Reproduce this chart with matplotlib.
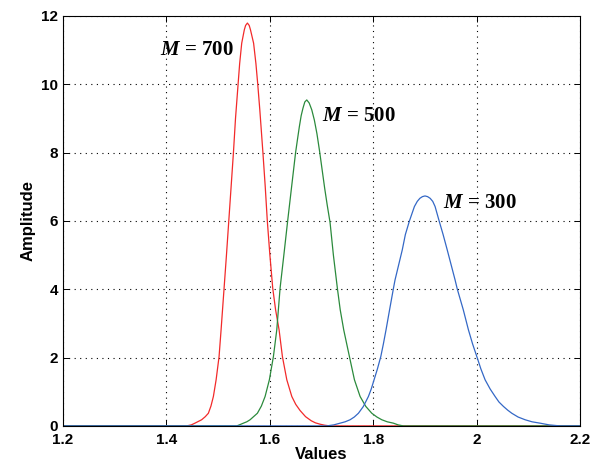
import numpy as np
import matplotlib
matplotlib.use('Agg')
import matplotlib.pyplot as plt

plt.rcParams['font.family'] = 'Liberation Sans'
plt.rcParams['mathtext.fontset'] = 'custom'
plt.rcParams['mathtext.it'] = 'Liberation Serif:bold:italic'
plt.rcParams['mathtext.rm'] = 'Liberation Serif:bold'

# values, (x, amplitude)
x700 = [1.20, 1.439, 1.448, 1.455, 1.468, 1.475, 1.481, 1.486, 1.4907, 1.496, 1.5017, 1.5056,
        1.5114, 1.516, 1.5205, 1.525, 1.5295, 1.5335, 1.5385, 1.5415, 1.5455, 1.5505, 1.553,
        1.5565, 1.560, 1.5625, 1.5685, 1.573, 1.5765, 1.5805, 1.5865, 1.591, 1.595, 1.600,
        1.6055, 1.611, 1.6178, 1.6242, 1.6327, 1.6424, 1.650, 1.6584, 1.669, 1.680, 1.688,
        1.697, 1.706, 1.716, 2.20]
y700 = [0.0, 0.0, 0.03, 0.08, 0.18, 0.27, 0.37, 0.58, 0.86, 1.35, 2.03, 2.81,
        4.03, 5.0, 6.0, 7.0, 8.0, 9.0, 10.0, 10.6, 11.2, 11.59, 11.72,
        11.79, 11.72, 11.59, 11.2, 10.6, 10.0, 9.25, 8.0, 7.0, 6.0, 5.0,
        4.03, 3.4, 2.81, 2.03, 1.35, 0.86, 0.63, 0.45, 0.27, 0.15, 0.09,
        0.05, 0.02, 0.0, 0.0]

x500 = [1.20, 1.536, 1.5425, 1.5487, 1.5553, 1.5617, 1.5758, 1.5835, 1.5907, 1.599, 1.6068,
        1.6133, 1.6197, 1.627, 1.6346, 1.642, 1.6497, 1.6535, 1.657, 1.6605, 1.664, 1.6675,
        1.6713, 1.676, 1.681, 1.686, 1.691, 1.696, 1.701, 1.706, 1.711, 1.7164, 1.7228,
        1.7305, 1.736, 1.7428, 1.7538, 1.7635, 1.7745, 1.7855, 1.7971, 1.807, 1.8164,
        1.827, 1.8389, 1.848, 1.858, 2.20]
y500 = [0.0, 0.0, 0.04, 0.08, 0.12, 0.18, 0.37, 0.58, 0.86, 1.35, 2.03,
        2.81, 4.03, 5.0, 6.03, 7.0, 8.0, 8.4, 8.76, 9.08, 9.3, 9.48,
        9.54, 9.45, 9.25, 8.95, 8.55, 8.05, 7.5, 6.95, 6.45, 5.95, 5.0,
        4.03, 3.4, 2.81, 2.03, 1.35, 0.86, 0.57, 0.37, 0.26, 0.18,
        0.12, 0.08, 0.03, 0.0, 0.0]

x300 = [1.20, 1.71, 1.7235, 1.7358, 1.7455, 1.7551, 1.7632, 1.7712, 1.7808, 1.7905, 1.796,
        1.8015, 1.808, 1.8145, 1.8195, 1.8246, 1.8315, 1.839, 1.842, 1.856, 1.862, 1.8699,
        1.8795, 1.885, 1.89, 1.895, 1.900, 1.905, 1.910, 1.915, 1.9195, 1.9273, 1.935,
        1.943, 1.9582, 1.9625, 1.974, 1.984, 1.992, 2.0002, 2.008, 2.0162, 2.026, 2.0356,
        2.043, 2.0517, 2.06, 2.0679, 2.08, 2.0936, 2.107, 2.1226, 2.14, 2.161, 2.20]
y300 = [0.0, 0.0, 0.03, 0.08, 0.12, 0.18, 0.26, 0.37, 0.57, 0.86, 1.08,
        1.35, 1.67, 2.03, 2.4, 2.81, 3.4, 4.03, 4.27, 5.15, 5.6, 6.0,
        6.42, 6.57, 6.66, 6.71, 6.73, 6.71, 6.66, 6.57, 6.42, 6.0, 5.6,
        5.15, 4.27, 4.0, 3.4, 2.81, 2.4, 2.03, 1.67, 1.35, 1.08, 0.86,
        0.7, 0.57, 0.46, 0.37, 0.26, 0.18, 0.12, 0.08, 0.03, 0.0, 0.0]

labels = ['700', '500', '300']
label_pos = [(1.387, 11.0), (1.700, 9.07), (1.934, 6.53)]

fig = plt.figure(figsize=(5.95, 4.67), dpi=100)
ax = fig.add_axes([0.106, 0.088, 0.869, 0.878])

ax.plot(x700, y700, color='#f22a2a', lw=0.9)
ax.plot(x500, y500, color='#2b8a3c', lw=0.9)
ax.plot(x300, y300, color='#3468c6', lw=0.9)

for lab, (lx, ly) in zip(labels, label_pos):
    ax.text(lx, ly, r'$\mathit{M}$ = ' + lab, family='Liberation Serif', fontweight='bold',
            fontsize=15, va='center', ha='left')

ax.set_xlim(1.2, 2.2)
ax.set_ylim(0, 12)
ax.set_xticks([1.2, 1.4, 1.6, 1.8, 2.0, 2.2])
ax.set_xticklabels(['1.2', '1.4', '1.6', '1.8', '2', '2.2'])
ax.set_yticks(range(0, 13, 2))
ax.tick_params(direction='in', top=True, right=True, labelsize=11, length=4, width=0.7)
ax.tick_params(axis='x', pad=5)
for t in ax.get_xticklabels() + ax.get_yticklabels():
    t.set_fontweight('bold')
ax.grid(True, color='black', linestyle=(0, (1, 4)), linewidth=0.8)
for s in ax.spines.values():
    s.set_linewidth(0.8)

ax.set_xlabel('Values', fontsize=12, fontweight='bold', labelpad=0)
ax.set_ylabel('Amplitude', fontsize=12, fontweight='bold', labelpad=4)

fig.savefig('out.png', dpi=100)
